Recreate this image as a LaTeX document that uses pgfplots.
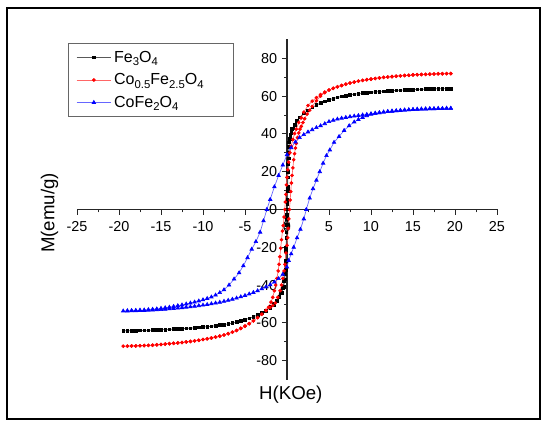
\documentclass[border=0pt]{standalone}
\usepackage{fontspec}
\setmainfont{Liberation Sans}
\usepackage{pgfplots}
\pgfplotsset{compat=1.18}
\newcommand\sub[1]{\raisebox{-0.45ex}{\fontsize{8.5}{9}\selectfont #1}}
\begin{document}
\begin{tikzpicture}
\path[use as bounding box] (0pt,0pt) rectangle (412.5pt,323.25pt);
\draw[line width=1.5pt] (5.6pt,8.8pt) rectangle (405pt,317pt);
\begin{axis}[
  at={(57.75pt,38.55pt)}, anchor=south west,
  scale only axis, width=315pt, height=255.15pt,
  xmin=-25, xmax=25, ymin=-90, ymax=90,
  axis lines=middle,
  axis line style={-, line width=0.8pt, black!85},
  every inner x axis line/.append style={-},
  every inner y axis line/.append style={-},
  xtick={-25,-20,-15,-10,-5,0,5,10,15,20,25},
  xticklabels={-25,-20,-15,-10,-5,0,5,10,15,20,25},
  minor xtick={-22.5,-17.5,-12.5,-7.5,-2.5,2.5,7.5,12.5,17.5,22.5},
  ytick={-80,-60,-40,-20,0,20,40,60,80},
  yticklabels={-80,-60,-40,-20,0,20,40,60,80},
  minor ytick={-70,-50,-30,-10,10,30,50,70},
  tick align=outside,
  major tick length=3.8pt, minor tick length=2.2pt,
  tick style={black!85, line width=0.7pt},
  hide obscured x ticks=false, hide obscured y ticks=false,
  tick label style={font=\fontsize{10.8}{12}\selectfont},
  xticklabel style={yshift=-2pt},
  xlabel={H(KOe)}, ylabel={M(emu/g)},
  xlabel style={at={(axis description cs:0.509,-0.045)}, anchor=center, font=\fontsize{14}{16}\selectfont},
  ylabel style={at={(axis description cs:-0.0655,0.49)}, anchor=center, rotate=90, font=\fontsize{14}{16}\selectfont},
  legend style={at={(-0.0207,0.9885)}, anchor=north west, draw=black!60, line width=0.8pt,
     font=\fontsize{12}{13}\selectfont, row sep=3pt, inner xsep=5.5pt, inner ysep=3.3pt},
  legend cell align=left,
  legend image code/.code={\draw[mark repeat=2,mark phase=2,#1] plot coordinates {(0pt,0pt) (13pt,0pt) (26pt,0pt)};},
  clip=false,
]
\addplot[color=black!65, line width=0.5pt, mark=square*, mark size=1.0pt, mark options={draw=black, fill=black, solid}] coordinates {
(19.5,64.0)(19,64.0)(18.5,63.9)(18,63.9)(17.5,63.8)(17,63.8)(16.5,63.7)(16,63.6)(15.5,63.5)(15,63.4)(14.5,63.3)(14,63.2)(13.5,63.1)(13,63.0)(12.5,62.9)(12,62.7)(11.5,62.6)(11,62.4)(10.5,62.2)(10,62.0)(9.5,61.8)(9,61.6)(8.5,61.3)(8,61.0)(7.5,60.7)(7,60.3)(6.5,59.8)(6,59.3)(5.5,58.7)(5,58.0)(4.5,57.2)(4,56.3)(3.5,55.2)(3,54.0)(2.5,52.5)(2,50.8)(1.5,48.8)(1.2,47.0)(0.9,44.8)(0.7,43.0)(0.5,40.5)(0.35,37.5)(0.25,33)(0.18,27)(0.12,20)(0.07,12)(0.03,5)(0,0)(-0.03,-5)(-0.07,-12)(-0.1,-20)(-0.13,-27)(-0.17,-32)(-0.25,-37)(-0.4,-41)(-0.6,-44)(-0.9,-46.5)(-1.2,-48.5)(-1.6,-50.5)(-2,-52)(-2.5,-53.5)(-3,-54.8)(-3.5,-55.8)(-4,-56.8)(-4.5,-57.6)(-5,-58.3)(-5.5,-59.0)(-6,-59.6)(-6.5,-60.1)(-7,-60.5)(-7.5,-60.9)(-8,-61.2)(-8.5,-61.5)(-9,-61.8)(-9.5,-62.0)(-10,-62.2)(-10.5,-62.4)(-11,-62.6)(-11.5,-62.8)(-12,-62.9)(-12.5,-63.1)(-13,-63.2)(-13.5,-63.3)(-14,-63.4)(-14.5,-63.5)(-15,-63.6)(-15.5,-63.7)(-16,-63.8)(-16.5,-63.9)(-17,-64.0)(-17.5,-64.0)(-18,-64.1)(-18.5,-64.1)(-19,-64.2)(-19.5,-64.2)
(-19,-64.2)(-18.5,-64.1)(-18,-64.1)(-17.5,-64.0)(-17,-64.0)(-16.5,-63.9)(-16,-63.8)(-15.5,-63.7)(-15,-63.6)(-14.5,-63.5)(-14,-63.4)(-13.5,-63.3)(-13,-63.2)(-12.5,-63.1)(-12,-62.9)(-11.5,-62.8)(-11,-62.6)(-10.5,-62.4)(-10,-62.2)(-9.5,-62.0)(-9,-61.8)(-8.5,-61.5)(-8,-61.2)(-7.5,-60.9)(-7,-60.5)(-6.5,-60.1)(-6,-59.6)(-5.5,-59.0)(-5,-58.3)(-4.5,-57.6)(-4,-56.8)(-3.5,-55.8)(-3,-54.8)(-2.5,-53.3)(-2,-51.6)(-1.6,-50.0)(-1.2,-48.0)(-0.9,-46.0)(-0.7,-44.0)(-0.5,-41.5)(-0.35,-38)(-0.25,-34)(-0.18,-29)(-0.12,-22)(-0.07,-15)(-0.03,-8)(0,-3)(0.03,3)(0.07,10)(0.1,17)(0.13,24)(0.17,30)(0.25,35.5)(0.4,39.5)(0.6,42.5)(0.9,45)(1.2,47)(1.5,48.8)(2,50.8)(2.5,52.5)(3,54.0)(3.5,55.2)(4,56.3)(4.5,57.2)(5,58.0)(5.5,58.7)(6,59.3)(6.5,59.8)(7,60.3)(7.5,60.7)(8,61.0)(8.5,61.3)(9,61.6)(9.5,61.8)(10,62.0)(10.5,62.2)(11,62.4)(11.5,62.6)(12,62.7)(12.5,62.9)(13,63.0)(13.5,63.1)(14,63.2)(14.5,63.3)(15,63.4)(15.5,63.5)(16,63.6)(16.5,63.7)(17,63.8)(17.5,63.8)(18,63.9)(18.5,63.9)(19,64.0)(19.5,64.0)
};
\addlegendentry{\makebox[82pt][l]{Fe\sub{3}O\sub{4}}}
\addplot[color=red!60, line width=0.5pt, mark=*, mark size=1.1pt, mark options={draw=red, fill=red, solid}] coordinates {
(19.5,71.9)(19,71.9)(18.5,71.8)(18,71.8)(17.5,71.7)(17,71.6)(16.5,71.5)(16,71.4)(15.5,71.3)(15,71.2)(14.5,71.0)(14,70.9)(13.5,70.7)(13,70.5)(12.5,70.3)(12,70.1)(11.5,69.9)(11,69.6)(10.5,69.3)(10,69.0)(9.5,68.7)(9,68.3)(8.5,67.9)(8,67.4)(7.5,66.9)(7,66.3)(6.5,65.6)(6,64.9)(5.5,64.1)(5,63.2)(4.5,62.1)(4,60.8)(3.5,59.2)(3,57.3)(2.5,55.0)(2,51.5)(1.7,48.5)(1.4,46)(1.1,42.5)(0.9,40.2)(0.7,37)(0.5,33.5)(0.35,30)(0.2,25)(0.1,21)(0,17)(-0.07,13)(-0.13,8)(-0.2,4)(-0.27,0)(-0.35,-4)(-0.45,-8.5)(-0.54,-11.4)(-0.65,-16)(-0.75,-20.5)(-0.85,-25)(-0.95,-29)(-1.05,-32.5)(-1.2,-36.5)(-1.35,-40)(-1.5,-43)(-1.7,-46.5)(-1.9,-49)(-2.2,-51.7)(-2.5,-53.3)(-3,-55.4)(-3.5,-57.2)(-4,-58.9)(-4.5,-60.4)(-5,-61.7)(-5.5,-62.9)(-6,-64.0)(-6.5,-64.9)(-7,-65.7)(-7.5,-66.4)(-8,-67.0)(-8.5,-67.5)(-9,-68.0)(-9.5,-68.4)(-10,-68.8)(-10.5,-69.2)(-11,-69.5)(-11.5,-69.8)(-12,-70.1)(-12.5,-70.4)(-13,-70.6)(-13.5,-70.8)(-14,-71.0)(-14.5,-71.2)(-15,-71.4)(-15.5,-71.6)(-16,-71.8)(-16.5,-71.9)(-17,-72.0)(-17.5,-72.1)(-18,-72.2)(-18.5,-72.2)(-19,-72.3)(-19.5,-72.3)
(-19,-72.3)(-18.5,-72.2)(-18,-72.2)(-17.5,-72.1)(-17,-72.0)(-16.5,-71.9)(-16,-71.8)(-15.5,-71.6)(-15,-71.4)(-14.5,-71.2)(-14,-71.0)(-13.5,-70.8)(-13,-70.6)(-12.5,-70.4)(-12,-70.1)(-11.5,-69.8)(-11,-69.5)(-10.5,-69.2)(-10,-68.8)(-9.5,-68.4)(-9,-68.0)(-8.5,-67.5)(-8,-67.0)(-7.5,-66.4)(-7,-65.7)(-6.5,-64.9)(-6,-64.0)(-5.5,-62.9)(-5,-61.7)(-4.5,-60.4)(-4,-58.9)(-3.5,-57.2)(-3,-55.4)(-2.5,-53.5)(-2,-51.8)(-1.7,-50.8)(-1.4,-49.5)(-1.1,-46.5)(-0.82,-43)(-0.65,-40)(-0.5,-36.5)(-0.35,-32.5)(-0.24,-29)(-0.12,-23)(0,-19)(0.08,-15)(0.15,-10)(0.22,-5)(0.3,0)(0.38,5)(0.45,9.5)(0.52,14)(0.6,18)(0.7,22)(0.8,26.3)(0.9,29.5)(1.0,32.5)(1.1,35)(1.25,38)(1.4,40.5)(1.55,42.5)(1.7,44)(1.9,46)(2.1,48)(2.4,50.5)(2.7,52.5)(3,54.5)(3.5,57.5)(4,60.0)(4.5,61.8)(5,63.2)(5.5,64.1)(6,64.9)(6.5,65.6)(7,66.3)(7.5,66.9)(8,67.4)(8.5,67.9)(9,68.3)(9.5,68.7)(10,69.0)(10.5,69.3)(11,69.6)(11.5,69.9)(12,70.1)(12.5,70.3)(13,70.5)(13.5,70.7)(14,70.9)(14.5,71.0)(15,71.2)(15.5,71.3)(16,71.4)(16.5,71.5)(17,71.6)(17.5,71.7)(18,71.8)(18.5,71.8)(19,71.9)(19.5,71.9)
};
\addlegendentry{Co\sub{0.5}Fe\sub{2.5}O\sub{4}}
\addplot[color=blue!60, line width=0.5pt, mark=triangle*, mark size=1.5pt, mark options={draw=blue, fill=blue, solid}] coordinates {
(19.5,53.5)(19,53.5)(18.5,53.4)(18,53.4)(17.5,53.3)(17,53.3)(16.5,53.2)(16,53.1)(15.5,53.0)(15,52.9)(14.5,52.7)(14,52.6)(13.5,52.4)(13,52.2)(12.5,52.0)(12,51.8)(11.5,51.5)(11,51.2)(10.5,50.9)(10,50.6)(9.5,50.3)(9,50.0)(8.5,49.7)(8,49.4)(7.5,49.1)(7,48.7)(6.5,48.3)(6,47.8)(5.5,47.2)(5,46.5)(4.5,45.4)(4,44.3)(3.5,43.3)(3,42.2)(2.5,41.0)(2,39.6)(1.5,38.0)(1,35.7)(0.5,32.7)(0,29)(-0.5,23.5)(-1,18.0)(-1.5,12)(-2,5.3)(-2.4,0)(-2.8,-6)(-3.2,-12.0)(-3.7,-17)(-4.2,-21)(-4.7,-25.5)(-5.2,-29.8)(-5.7,-33.5)(-6.3,-36.8)(-6.9,-40)(-7.5,-42.5)(-8,-44)(-8.5,-45.3)(-9,-46.3)(-9.5,-47.1)(-10,-47.8)(-10.5,-48.4)(-11,-49.0)(-11.5,-49.5)(-12,-50.0)(-12.5,-50.5)(-13,-50.9)(-13.5,-51.3)(-14,-51.7)(-14.5,-52.0)(-15,-52.3)(-15.5,-52.6)(-16,-52.8)(-16.5,-53.0)(-17,-53.2)(-17.5,-53.3)(-18,-53.4)(-18.5,-53.5)(-19,-53.6)(-19.5,-53.7)
(-19,-53.7)(-18.5,-53.6)(-18,-53.6)(-17.5,-53.5)(-17,-53.4)(-16.5,-53.3)(-16,-53.2)(-15.5,-53.1)(-15,-53.0)(-14.5,-52.8)(-14,-52.6)(-13.5,-52.4)(-13,-52.2)(-12.5,-52.0)(-12,-51.7)(-11.5,-51.5)(-11,-51.2)(-10.5,-50.9)(-10,-50.6)(-9.5,-50.3)(-9,-49.9)(-8.5,-49.5)(-8,-49.1)(-7.5,-48.6)(-7,-48.1)(-6.5,-47.5)(-6,-46.9)(-5.5,-46.2)(-5,-45.5)(-4.5,-44.7)(-4,-43.9)(-3.5,-43.0)(-3,-42.0)(-2.5,-41.0)(-2,-39.8)(-1.5,-38.4)(-1,-36.6)(-0.5,-34.3)(0,-30.5)(0.2,-27)(0.5,-23.5)(0.8,-20)(1.2,-15)(1.6,-10.5)(2,-5)(2.3,0)(2.7,6)(3.1,11)(3.5,15.5)(3.9,20)(4.3,24.5)(4.7,28.5)(5.1,31.5)(5.6,35.5)(6.2,38.6)(6.8,41.8)(7.4,44.3)(8,46.3)(8.5,47.6)(9,48.7)(9.5,49.6)(10,50.4)(10.5,50.9)(11,51.2)(11.5,51.5)(12,51.8)(12.5,52.0)(13,52.2)(13.5,52.4)(14,52.6)(14.5,52.7)(15,52.9)(15.5,53.0)(16,53.1)(16.5,53.2)(17,53.3)(17.5,53.3)(18,53.4)(18.5,53.4)(19,53.5)(19.5,53.5)
};
\addlegendentry{CoFe\sub{2}O\sub{4}}
\end{axis}
\end{tikzpicture}
\end{document}
